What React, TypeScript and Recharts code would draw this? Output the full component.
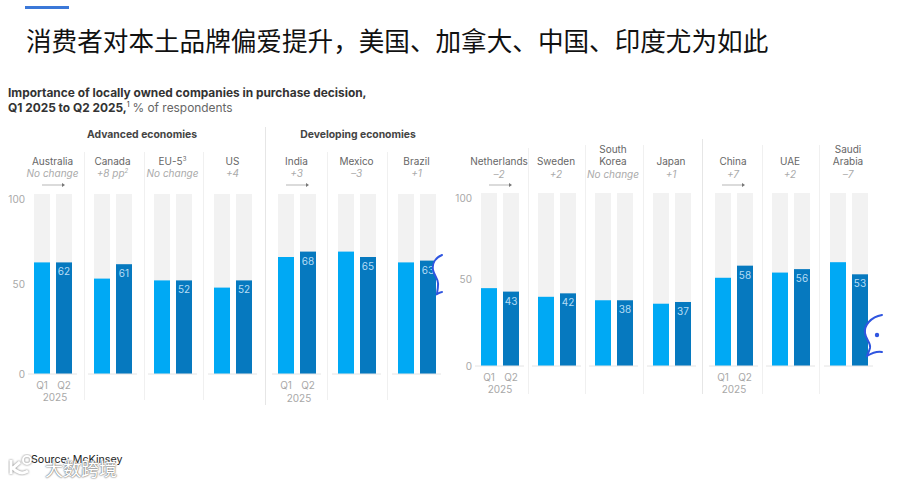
import { BarChart, Bar, XAxis, YAxis, LabelList } from "recharts";

const quarters = ["Q1", "Q2"];

const leftCountries = ["Australia", "Canada", "EU-5", "US", "India", "Mexico", "Brazil"];
const leftChanges = ["No change", "+8 pp", "No change", "+4", "+3", "–3", "+1"];
const leftQ1 = [62, 53, 52, 48, 65, 68, 62];
const leftQ2 = [62, 61, 52, 52, 68, 65, 63];
const leftX = [28, 88, 148, 208, 272, 332, 392];

const rightCountries = [["Netherlands"], ["Sweden"], ["South", "Korea"], ["Japan"], ["China"], ["UAE"], ["Saudi", "Arabia"]];
const rightChanges = ["–2", "+2", "No change", "+1", "+7", "+2", "–7"];
const rightQ1 = [45, 40, 38, 36, 51, 54, 60];
const rightQ2 = [43, 42, 38, 37, 58, 56, 53];
const rightX = [475, 532, 589, 647, 709, 766, 824];

const FONT = "Inter, 'Liberation Sans', sans-serif";
const GREY = "#a8a8a8";

function Text(props: { x: number; y: number; w?: number; size?: number; color?: string; weight?: number; italic?: boolean; children: any }) {
  const { x, y, w, size = 10, color = "#666", weight = 400, italic, children } = props;
  return (
    <div style={{
      position: "absolute", left: x, top: y, width: w, textAlign: w ? "center" : "left",
      fontSize: size, color, fontWeight: weight, fontStyle: italic ? "italic" : "normal",
      fontFamily: FONT, lineHeight: "12px", whiteSpace: "nowrap",
    }}>
      {children}
    </div>
  );
}

function Rule({ x, y, h, color = "#f0f0f0" }: { x: number; y: number; h: number; color?: string }) {
  return <div style={{ position: "absolute", left: x, top: y, width: 1, height: h, background: color }} />;
}

function Arrow({ x, y }: { x: number; y: number }) {
  return (
    <svg style={{ position: "absolute", left: x, top: y }} width={24} height={6}>
      <path d="M0 3H20" stroke="#999" strokeWidth={0.7} />
      <path d="M20 1L23 3L20 5Z" fill="#777" />
    </svg>
  );
}

function BarShape(p: any) {
  return <rect x={p.x} y={p.y} width={p.width} height={p.height} fill={p.index === 0 ? "#00a9f4" : "#0679bf"} />;
}

function Panel({ x, top, plotH, q1, q2, showQ, showY }: { x: number; top: number; plotH: number; q1: number; q2: number; showQ?: boolean; showY?: boolean }) {
  const yW = showY ? 28 : 0;
  const rows = quarters.map((q, i) => ({ q, v: i === 0 ? q1 : q2 }));
  return (
    <div style={{ position: "absolute", left: x - yW, top }}>
      <BarChart
        width={49 + yW}
        height={plotH + 24}
        data={rows}
        margin={{ top: 0, right: 0, bottom: 0, left: 0 }}
        barSize={16}
      >
        <XAxis
          dataKey="q"
          height={24}
          axisLine={{ stroke: "#e4e4e4" }}
          tickLine={false}
          interval={0}
          padding={{ left: 3, right: 2 }}
          tick={showQ ? { fontSize: 10, fill: GREY, fontFamily: FONT } : false}
        />
        <YAxis
          hide={!showY}
          width={yW}
          domain={[0, 100]}
          ticks={[0, 50, 100]}
          axisLine={false}
          tickLine={false}
          tickSize={0}
          tickMargin={3}
          tick={{ fontSize: 10, fill: GREY, fontFamily: FONT }}
        />
        <Bar dataKey="v" isAnimationActive={false} background={{ fill: "#f2f2f2" }} shape={BarShape}>
          <LabelList
            dataKey="v"
            content={(p: any) =>
              p.index === 1 ? (
                <text x={p.x + p.width / 2} y={p.y + 13} textAnchor="middle" fontSize={10} fontFamily={FONT} fill="#b5dcf5">
                  {p.value}
                </text>
              ) : null
            }
          />
        </Bar>
      </BarChart>
    </div>
  );
}

// chat widget peeking in from the right edge of the screenshot
function Bubble({ x, y, w, h, d, dot }: { x: number; y: number; w: number; h: number; d: string; dot?: [number, number] }) {
  return (
    <svg style={{ position: "absolute", left: x, top: y }} width={w} height={h}>
      <path d={d + `L${w} ${h}L${w} 0Z`} fill="#fff" stroke="none" />
      <path d={d} fill="none" stroke="#2f55e0" strokeWidth={2} strokeLinecap="round" />
      {dot ? <circle cx={dot[0]} cy={dot[1]} r={2.2} fill="#2f55e0" /> : null}
    </svg>
  );
}

export default function App() {
  return (
    <div style={{ position: "absolute", left: 0, top: 0, width: 900, height: 483, background: "#fff", overflow: "hidden" }}>
      <div style={{ position: "absolute", left: 25, top: 6, width: 44, height: 3, background: "#3b78d8" }} />
      <div style={{
        position: "absolute", left: 26, top: 24, fontSize: 25.6, lineHeight: "32px", color: "#111",
        fontFamily: "'Noto Sans CJK SC'", whiteSpace: "nowrap",
      }}>
        消费者对本土品牌偏爱提升，美国、加拿大、中国、印度尤为如此
      </div>

      <Text x={8} y={87} size={11.9} weight={700} color="#333">Importance of locally owned companies in purchase decision,</Text>
      <Text x={8} y={102} size={11.9} weight={700} color="#333">
        Q1 2025 to Q2 2025,<sup style={{ fontSize: 7, fontWeight: 400, lineHeight: 0 }}>1</sup>{" "}
        <span style={{ fontWeight: 400, color: "#666" }}>% of respondents</span>
      </Text>
      <Text x={67} y={129} w={150} size={10.4} weight={700} color="#444">Advanced economies</Text>
      <Text x={283} y={129} w={150} size={10.4} weight={700} color="#444">Developing economies</Text>

      <Rule x={84} y={152} h={248} />
      <Rule x={144} y={152} h={248} />
      <Rule x={203} y={152} h={248} />
      <Rule x={265} y={127} h={278} color="#e6e6e6" />
      <Rule x={327} y={152} h={248} />
      <Rule x={387} y={152} h={248} />
      <Rule x={528} y={148} h={246} />
      <Rule x={585} y={145} h={249} />
      <Rule x={643} y={145} h={249} />
      <Rule x={702} y={139} h={255} color="#e6e6e6" />
      <Rule x={762} y={145} h={249} />
      <Rule x={819} y={145} h={249} />

      {leftCountries.map((c, i) => (
        <div key={c}>
          <Text x={leftX[i] - 10.5} y={155} w={70}>
            {c}
            {c === "EU-5" ? <sup style={{ fontSize: 6, lineHeight: 0 }}>3</sup> : null}
          </Text>
          <Text x={leftX[i] - 10.5} y={167} w={70} italic color="#aaa">
            {leftChanges[i]}
            {c === "Canada" ? <sup style={{ fontSize: 6, lineHeight: 0 }}>2</sup> : null}
          </Text>
          <Panel x={leftX[i]} top={193.5} plotH={180} q1={leftQ1[i]} q2={leftQ2[i]} showQ={i === 0 || i === 4} showY={i === 0} />
        </div>
      ))}
      <Arrow x={42} y={182} />
      <Arrow x={286} y={182} />
      <Text x={15} y={391} w={80} color={GREY}>2025</Text>
      <Text x={259} y={392} w={80} color={GREY}>2025</Text>

      {rightCountries.map((c, i) => (
        <div key={c.join(" ")}>
          {c.map((line, j) => (
            <Text key={line} x={rightX[i] - 11} y={167 - 12 * (c.length - 1 - j) - 12} w={70}>{line}</Text>
          ))}
          <Text x={rightX[i] - 11} y={168} w={70} italic color="#aaa">{rightChanges[i]}</Text>
          <Panel x={rightX[i]} top={193} plotH={173} q1={rightQ1[i]} q2={rightQ2[i]} showQ={i === 0 || i === 4} showY={i === 0} />
        </div>
      ))}
      <Arrow x={489} y={182} />
      <Arrow x={722} y={182} />
      <Text x={460} y={383} w={80} color={GREY}>2025</Text>
      <Text x={694} y={383} w={80} color={GREY}>2025</Text>

      <Bubble x={430} y={252} w={16} h={46} d="M12 3C5 6 2 12 3 18C4 24 9 27 8 33C8 37 7 40 7 42C9 41 11 40 12 40" />
      <Bubble x={863} y={312} w={37} h={48} d="M19 3C8 5 1 13 2 21C3 28 8 31 7 36C6 40 4 43 4 44C9 41 14 39 19 40" dot={[14, 23]} />

      <svg style={{ position: "absolute", left: 8, top: 454 }} width={32} height={22}>
        <path d="M3 6V20M12 8L5 14C8 18 14 21 20 17" fill="none" stroke="#fff" strokeWidth={3} style={{ filter: "drop-shadow(0 0 1px #777)" }} />
        <circle cx={19} cy={6} r={4} fill="none" stroke="#fff" strokeWidth={2} style={{ filter: "drop-shadow(0 0 1px #777)" }} />
      </svg>
      <Text x={31} y={454} size={10.7} color="#222">Source: McKinsey</Text>
      <div style={{
        position: "absolute", left: 45, top: 458, fontSize: 18, lineHeight: "20px", color: "#fff",
        fontFamily: "'Noto Sans CJK SC'", textShadow: "0 0 1.5px #666, 0 0 1.5px #666",
      }}>
        大数跨境
      </div>
    </div>
  );
}
